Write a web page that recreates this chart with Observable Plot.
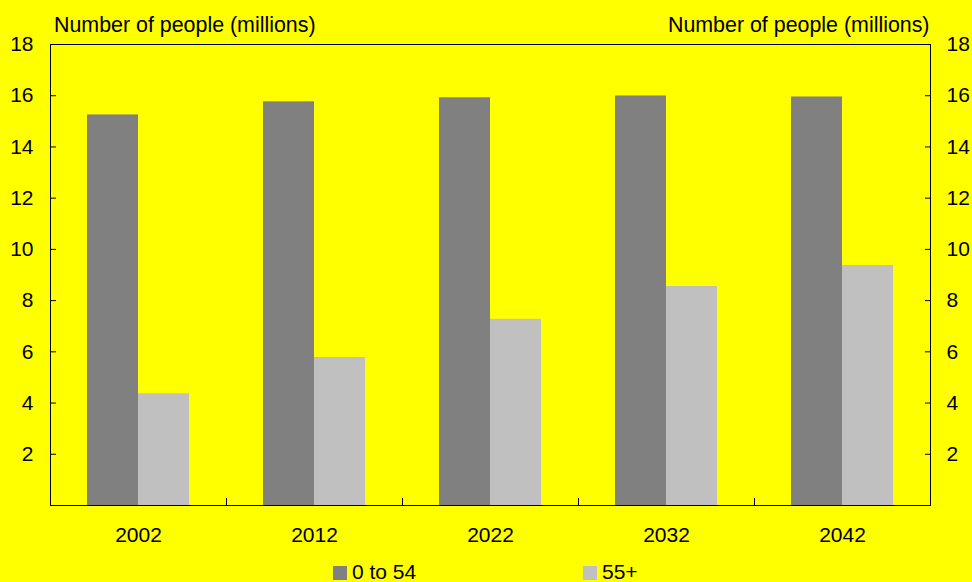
<!DOCTYPE html>
<html>
<head>
<meta charset="utf-8">
<script src="https://cdn.jsdelivr.net/npm/d3@7"></script>
<script src="https://cdn.jsdelivr.net/npm/@observablehq/plot@0.6"></script>
<style>
  html, body { margin: 0; padding: 0; background: #ffff00; }
  body { width: 972px; height: 582px; overflow: hidden; font-family: "Liberation Sans", Arial, sans-serif; }
  #chart svg { display: block; }
  #legend { display: flex; padding-left: 333px; height: 17px; font-size: 21px; line-height: 17px; color: #000; }
  .item { display: flex; align-items: center; width: 250px; }
  .sw { width: 14px; height: 14px; margin-right: 5px; margin-top: 2px; }
</style>
</head>
<body>
<div id="chart"></div>
<div id="legend"></div>
<script>
const years = ["2002", "2012", "2022", "2032", "2042"];
const seriesNames = ["0 to 54", "55+"];
const young = [15.25, 15.76, 15.92, 15.99, 15.95];
const older = [4.36, 5.78, 7.27, 8.55, 9.37];
const yTicks = [2, 4, 6, 8, 10, 12, 14, 16, 18];
const yTitle = "Number of people (millions)";
const colors = ["#808080", "#c0c0c0"];

const rows = [];
years.forEach((yr, i) => {
  rows.push({year: yr, series: seriesNames[0], value: young[i]});
  rows.push({year: yr, series: seriesNames[1], value: older[i]});
});

const chart = Plot.plot({
  width: 972,
  height: 563,
  marginLeft: 49,
  marginRight: 41,
  marginTop: 44,
  marginBottom: 58,
  style: {background: "#ffff00", fontFamily: "Liberation Sans, Arial, sans-serif", fontSize: "21px", color: "#000", overflow: "visible"},
  fx: {domain: years, padding: 0, axis: null, label: null},
  x: {domain: seriesNames, paddingInner: 0, paddingOuter: 0.72, axis: null},
  y: {domain: [0, 18], axis: null},
  color: {domain: seriesNames, range: colors},
  marks: [
    Plot.barY(rows, {fx: "year", x: "series", y: "value", fill: "series", inset: 0}),
    Plot.frame({facet: "super", stroke: "#000", strokeWidth: 1}),
    Plot.frame({anchor: "right", stroke: "#000", insetTop: 454}),
    Plot.axisY({anchor: "left", ticks: yTicks, tickSize: 0, tickPadding: 17, label: null}),
    Plot.axisY({anchor: "left", ticks: yTicks, tickSize: -6, tickFormat: () => "", stroke: "#000", strokeOpacity: 1, label: null}),
    Plot.axisY({anchor: "right", ticks: yTicks, tickSize: 0, tickPadding: 16, label: null}),
    Plot.axisY({anchor: "right", ticks: yTicks, tickSize: -6, tickFormat: () => "", stroke: "#000", strokeOpacity: 1, label: null}),
    Plot.axisFx({anchor: "bottom", tickSize: 0, tickPadding: 22, label: null}),
    Plot.text([yTitle], {facet: "super", frameAnchor: "top-left", textAnchor: "start", lineAnchor: "bottom", fontSize: 21.4, dx: 3.5, dy: -13}),
    Plot.text([yTitle], {facet: "super", frameAnchor: "top-right", textAnchor: "end", lineAnchor: "bottom", fontSize: 21.4, dx: -1, dy: -13})
  ]
});
document.getElementById("chart").appendChild(chart);

const legend = document.getElementById("legend");
seriesNames.forEach((name, i) => {
  const item = document.createElement("div");
  item.className = "item";
  const sw = document.createElement("span");
  sw.className = "sw";
  sw.style.background = colors[i];
  const label = document.createElement("span");
  label.textContent = name;
  item.appendChild(sw);
  item.appendChild(label);
  legend.appendChild(item);
});
</script>
</body>
</html>
